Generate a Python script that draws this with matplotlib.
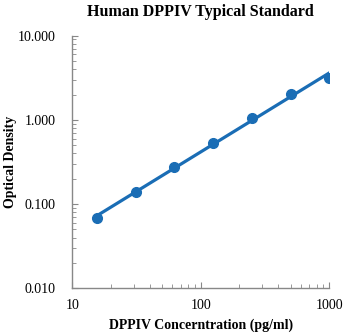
import numpy as np
import matplotlib
matplotlib.use("Agg")
import matplotlib.pyplot as plt
from matplotlib.ticker import LogLocator, NullFormatter

conc = [15.6, 31.25, 62.5, 125, 250, 500, 1000]
od = [0.068, 0.138, 0.278, 0.536, 1.06, 2.03, 3.12]
xticks = [10, 100, 1000]
xticklabels = ["10", "100", "1000"]
yticks = [0.01, 0.1, 1, 10]
yticklabels = ["0.010", "0.100", "1.000", "10.000"]

plt.rcParams['font.family'] = ['Liberation Serif', 'DejaVu Serif']
color = '#1a6db5'

fig = plt.figure(figsize=(3.44, 3.33), dpi=100)
ax = fig.add_axes([0.210, 0.134, 0.747, 0.759])

lx = np.log10(conc)
ly = np.log10(od)
coef = np.polyfit(lx, ly, 1)
xf = np.linspace(lx[0], np.log10(1000), 100)
ax.plot(10**xf, 10**np.polyval(coef, xf), color=color, lw=2.3, zorder=2)
ax.plot(conc, od, 'o', color=color, ms=7, zorder=3)

ax.set_xscale('log')
ax.set_yscale('log')
ax.set_xlim(10, 1000)
ax.set_ylim(0.01, 10)
ax.set_xticks(xticks)
ax.set_xticklabels(xticklabels)
ax.set_yticks(yticks)
ax.set_yticklabels(yticklabels)
ax.xaxis.set_minor_locator(LogLocator(base=10, subs=np.arange(2, 10)))
ax.yaxis.set_minor_locator(LogLocator(base=10, subs=np.arange(2, 10)))
ax.xaxis.set_minor_formatter(NullFormatter())
ax.yaxis.set_minor_formatter(NullFormatter())

for s in ['top', 'right']:
    ax.spines[s].set_visible(False)
for s in ['left', 'bottom']:
    ax.spines[s].set_color('#888888')
    ax.spines[s].set_linewidth(1.0)
ax.tick_params(which='both', direction='in', color='#888888', labelsize=10)
ax.tick_params(which='major', length=4)
ax.tick_params(which='minor', length=3)
ax.tick_params(axis='x', pad=8)
ax.tick_params(axis='y', pad=12)

ax.set_title('Human DPPIV Typical Standard', fontsize=11.5, fontweight='bold', pad=14)
ax.set_xlabel('DPPIV Concerntration (pg/ml)', fontsize=10, fontweight='bold', labelpad=4)
ax.set_ylabel('Optical Density', fontsize=10, fontweight='bold')
ax.yaxis.set_label_coords(-0.215, 0.5)

fig.savefig('out.png', dpi=100)
